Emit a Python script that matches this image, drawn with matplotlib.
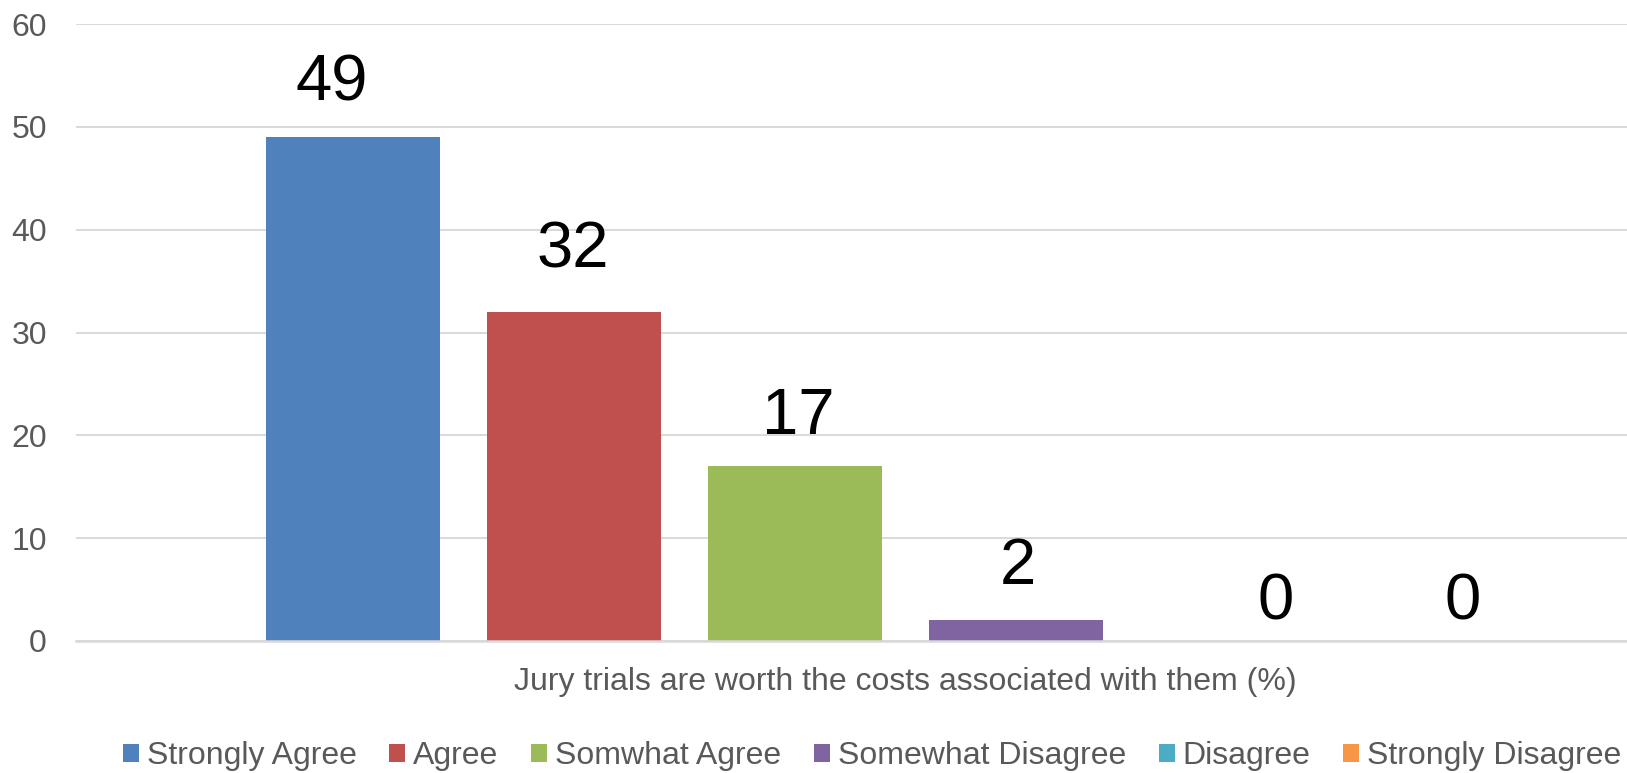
import matplotlib
matplotlib.use("Agg")
import matplotlib.pyplot as plt

# ------------------------------------------
# Data
# ------------------------------------------

question = "Jury trials are worth the costs associated with them (%)"
responses = ["Strongly Agree", "Agree", "Somwhat Agree",
             "Somewhat Disagree", "Disagree", "Strongly Disagree"]
percentages = [49, 32, 17, 2, 0, 0]
colors = ["#4F81BD", "#C0504D", "#9BBB59", "#8064A2", "#4BACC6", "#F79646"]

# label nudges in pixels (dx, gap above bar)
label_dx = [-21, -1, 3, 2, 39, 5]
label_gap = [37, 44, 32, 36, 22, 22]

PX = 72 / 100  # points per pixel at dpi 100

plt.rcParams["font.family"] = ["Liberation Sans", "DejaVu Sans"]

fig = plt.figure(figsize=(16.27, 7.73), dpi=100)
# plot area runs past the right edge of the picture (chart is cropped)
ax = fig.add_axes([76 / 1627, 1 - 641 / 773, (1734 - 76) / 1627, (641 - 24) / 773])

xs = list(range(len(responses)))
bars = ax.bar(xs, percentages, width=174 / 221, color=colors, zorder=2)

for x, v, dx, gap in zip(xs, percentages, label_dx, label_gap):
    ax.annotate(str(v), xy=(x, v), xytext=(dx * PX, gap * PX),
                textcoords="offset points", ha="center", va="baseline",
                fontsize=47, color="black")

ax.set_xlim(-1.253, 6.249)
ax.set_ylim(0, 60)
ax.set_yticks(range(0, 61, 10))
ax.grid(axis="y", color="#D9D9D9", linewidth=1.4, zorder=0)
ax.set_axisbelow(True)

ax.set_xticks([2.5])
ax.set_xticklabels([question])
ax.tick_params(axis="x", length=0, pad=19, labelsize=23, labelcolor="#595959")
ax.tick_params(axis="y", length=0, pad=21, labelsize=23, labelcolor="#595959")

for side in ["left", "right", "top"]:
    ax.spines[side].set_visible(False)
ax.spines["bottom"].set_color("#D9D9D9")
ax.spines["bottom"].set_linewidth(1.8)

fig.legend(handles=list(bars), labels=responses, loc="center left",
           bbox_to_anchor=(123 / 1627, 1 - 756 / 773), ncol=6, frameon=False,
           fontsize=23, labelcolor="#595959", borderpad=0, borderaxespad=0,
           handlelength=0.5, handleheight=0.5, handletextpad=0.25,
           columnspacing=1.02)

fig.savefig("out.png", dpi=100)
